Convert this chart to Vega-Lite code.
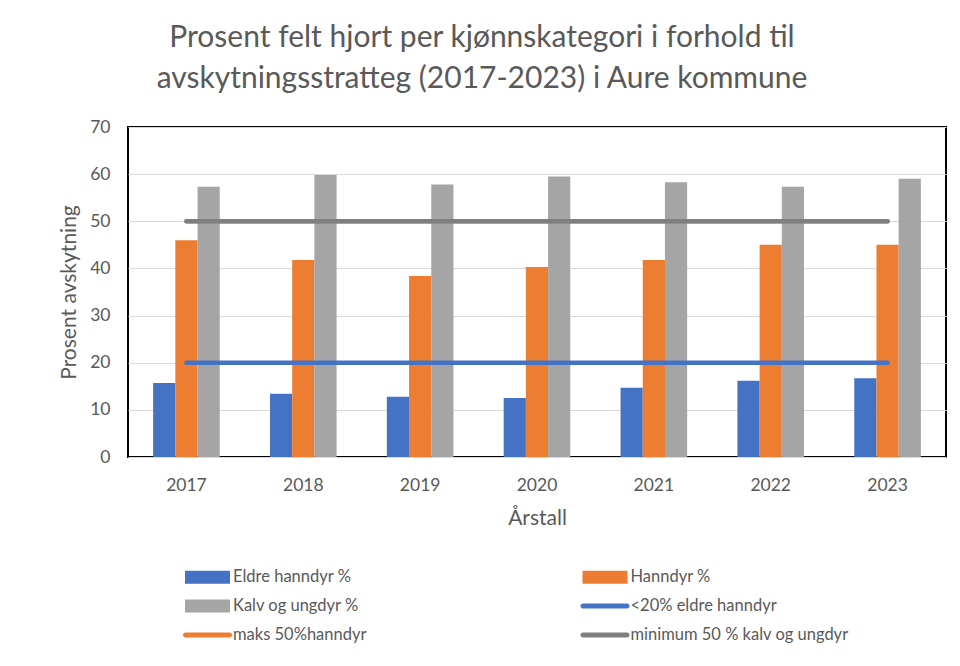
{
  "$schema": "https://vega.github.io/schema/vega-lite/v6.json",
  "autosize": {"type": "none"},
  "width": 818,
  "height": 330,
  "padding": {"left": 128, "top": 127, "right": 14, "bottom": 209},
  "background": "white",
  "title": {
    "text": ["Prosent felt hjort per kjønnskategori i forhold til", "avskytningsstratteg (2017-2023) i Aure kommune"],
    "font": "Lato",
    "fontSize": 30,
    "fontWeight": "normal",
    "color": "#595959",
    "lineHeight": 41,
    "anchor": "middle",
    "dx": -55,
    "offset": 24
  },
  "config": {
    "view": {"stroke": "#000000", "strokeWidth": 2},
    "axis": {
      "labelFont": "Lato",
      "labelFontSize": 17.5,
      "labelColor": "#595959",
      "titleFont": "Lato",
      "titleFontSize": 21,
      "titleFontWeight": "normal",
      "titleColor": "#595959"
    },
    "legend": {"labelFont": "Lato", "labelFontSize": 16.5, "labelColor": "#595959", "labelLimit": 400}
  },
  "datasets": {
    "bars": [
      {"year": "2017", "series": "Eldre hanndyr %", "value": 15.7},
      {"year": "2017", "series": "Hanndyr %", "value": 46.0},
      {"year": "2017", "series": "Kalv og ungdyr %", "value": 57.3},
      {"year": "2018", "series": "Eldre hanndyr %", "value": 13.4},
      {"year": "2018", "series": "Hanndyr %", "value": 41.8},
      {"year": "2018", "series": "Kalv og ungdyr %", "value": 59.8},
      {"year": "2019", "series": "Eldre hanndyr %", "value": 12.8},
      {"year": "2019", "series": "Hanndyr %", "value": 38.4},
      {"year": "2019", "series": "Kalv og ungdyr %", "value": 57.8},
      {"year": "2020", "series": "Eldre hanndyr %", "value": 12.5},
      {"year": "2020", "series": "Hanndyr %", "value": 40.3},
      {"year": "2020", "series": "Kalv og ungdyr %", "value": 59.5},
      {"year": "2021", "series": "Eldre hanndyr %", "value": 14.7},
      {"year": "2021", "series": "Hanndyr %", "value": 41.8},
      {"year": "2021", "series": "Kalv og ungdyr %", "value": 58.3},
      {"year": "2022", "series": "Eldre hanndyr %", "value": 16.2},
      {"year": "2022", "series": "Hanndyr %", "value": 45.0},
      {"year": "2022", "series": "Kalv og ungdyr %", "value": 57.3},
      {"year": "2023", "series": "Eldre hanndyr %", "value": 16.7},
      {"year": "2023", "series": "Hanndyr %", "value": 45.0},
      {"year": "2023", "series": "Kalv og ungdyr %", "value": 59.0}
    ],
    "lines": [
      {"year": "2017", "series": "<20% eldre hanndyr", "value": 20},
      {"year": "2018", "series": "<20% eldre hanndyr", "value": 20},
      {"year": "2019", "series": "<20% eldre hanndyr", "value": 20},
      {"year": "2020", "series": "<20% eldre hanndyr", "value": 20},
      {"year": "2021", "series": "<20% eldre hanndyr", "value": 20},
      {"year": "2022", "series": "<20% eldre hanndyr", "value": 20},
      {"year": "2023", "series": "<20% eldre hanndyr", "value": 20},
      {"year": "2017", "series": "maks 50%hanndyr", "value": 50},
      {"year": "2018", "series": "maks 50%hanndyr", "value": 50},
      {"year": "2019", "series": "maks 50%hanndyr", "value": 50},
      {"year": "2020", "series": "maks 50%hanndyr", "value": 50},
      {"year": "2021", "series": "maks 50%hanndyr", "value": 50},
      {"year": "2022", "series": "maks 50%hanndyr", "value": 50},
      {"year": "2023", "series": "maks 50%hanndyr", "value": 50},
      {"year": "2017", "series": "minimum 50 % kalv og ungdyr", "value": 50},
      {"year": "2018", "series": "minimum 50 % kalv og ungdyr", "value": 50},
      {"year": "2019", "series": "minimum 50 % kalv og ungdyr", "value": 50},
      {"year": "2020", "series": "minimum 50 % kalv og ungdyr", "value": 50},
      {"year": "2021", "series": "minimum 50 % kalv og ungdyr", "value": 50},
      {"year": "2022", "series": "minimum 50 % kalv og ungdyr", "value": 50},
      {"year": "2023", "series": "minimum 50 % kalv og ungdyr", "value": 50}
    ]
  },
  "encoding": {
    "x": {
      "field": "year",
      "type": "nominal",
      "scale": {"paddingInner": 0.43, "paddingOuter": 0.215},
      "axis": {
        "title": "Årstall",
        "labelAngle": 0,
        "labelPadding": 19,
        "titlePadding": 14,
        "ticks": false,
        "domain": false,
        "grid": false
      }
    },
    "y": {
      "field": "value",
      "type": "quantitative",
      "scale": {"domain": [0, 70], "nice": false},
      "axis": {
        "title": "Prosent avskytning",
        "values": [0, 10, 20, 30, 40, 50, 60, 70],
        "ticks": false,
        "domain": false,
        "labelPadding": 18,
        "titlePadding": 10,
        "grid": true,
        "gridColor": "#D9D9D9",
        "gridWidth": 1
      }
    },
    "color": {
      "field": "series",
      "type": "nominal",
      "scale": {
        "domain": ["Eldre hanndyr %", "Hanndyr %", "Kalv og ungdyr %", "<20% eldre hanndyr", "maks 50%hanndyr", "minimum 50 % kalv og ungdyr"],
        "range": ["#4472C4", "#ED7D31", "#A5A5A5", "#4472C4", "#ED7D31", "#7F7F7F"]
      },
      "legend": {
        "title": null,
        "orient": "none",
        "direction": "horizontal",
        "legendX": 69.5,
        "legendY": 440,
        "columns": 2,
        "columnPadding": 213.5,
        "rowPadding": 10,
        "symbolSize": 400,
        "labelOffset": 15.5,
        "labelLimit": 400,
        "symbolStrokeWidth": 0,
        "encode": {
          "symbols": {
            "update": {
              "shape": {"signal": "indexof(['Eldre hanndyr %','Hanndyr %','Kalv og ungdyr %'], datum.value) >= 0 ? 'M-2.25,-0.65H2.25V0.65H-2.25Z' : 'M-2.2,-0.25H2.2A0.25,0.25 0 0 1 2.2,0.25H-2.2A0.25,0.25 0 0 1 -2.2,-0.25Z'"},
              "fill": {"signal": "scale('color', datum.value)"},
              "fillOpacity": {"value": 1},
              "strokeWidth": {"value": 0}
            }
          }
        }
      }
    }
  },
  "layer": [
    {
      "data": {"name": "bars"},
      "mark": {"type": "bar"},
      "encoding": {
        "xOffset": {
          "field": "series",
          "type": "nominal",
          "scale": {"domain": ["Eldre hanndyr %", "Hanndyr %", "Kalv og ungdyr %"], "paddingInner": 0, "paddingOuter": 0}
        }
      }
    },
    {
      "data": {"name": "lines"},
      "mark": {"type": "line", "strokeWidth": 4.5, "strokeCap": "round"},
      "encoding": {}
    }
  ]
}
